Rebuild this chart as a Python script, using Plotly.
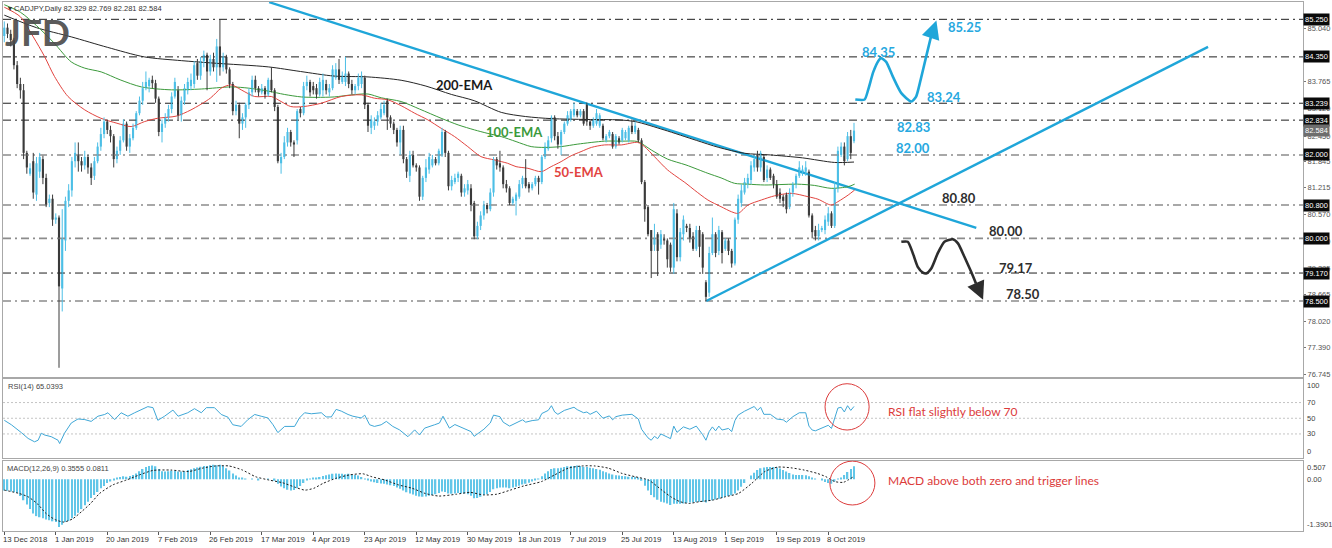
import plotly.graph_objects as go

# ---------------- data ----------------
open_ = [
84.85, 85.05, 84.90, 84.75, 84.15, 83.70, 83.55, 82.05, 81.55, 81.85,
81.05, 81.60, 81.90, 81.45, 80.85, 80.95, 80.45, 80.50, 78.80, 79.95,
80.90, 81.15, 81.85, 82.00, 81.85, 81.75, 81.95, 81.70, 81.50, 81.85,
82.20, 82.50, 82.80, 82.60, 82.45, 81.90, 82.10, 82.35, 82.75, 82.20,
82.40, 82.65, 83.00, 83.30, 83.60, 83.65, 83.80, 83.72, 83.35, 82.55,
82.75, 82.90, 83.10, 83.40, 83.55, 82.95, 83.30, 83.55, 83.65, 83.70,
84.20, 83.90, 84.25, 84.40, 84.00, 84.30, 84.10, 84.60, 84.10, 84.35,
84.05, 83.70, 83.05, 83.20, 82.75, 82.90, 83.20, 83.50, 83.80, 83.60,
83.50, 83.60, 83.45, 83.80, 83.55, 83.15, 81.80, 81.95, 82.30, 82.55,
82.30, 82.35, 83.10, 83.00, 83.65, 83.75, 83.65, 83.60, 83.45, 83.55,
83.70, 83.50, 83.60, 83.85, 84.05, 83.75, 83.75, 83.95, 83.70, 83.55,
83.65, 83.70, 83.85, 83.20, 82.65, 82.70, 82.80, 82.90, 83.00, 83.30,
82.90, 82.75, 82.60, 82.30, 82.60, 81.90, 81.50, 82.00, 81.75, 81.70,
81.00, 81.45, 81.65, 81.75, 81.90, 81.80, 82.00, 82.55, 82.05, 81.25,
81.35, 81.45, 81.50, 81.10, 81.15, 81.20, 80.85, 80.05, 80.30, 80.55,
80.80, 80.70, 81.10, 81.90, 81.80, 81.70, 81.30, 81.20, 80.85, 80.90,
81.00, 81.30, 81.45, 81.30, 81.20, 81.30, 81.45, 81.35, 81.95, 82.15,
82.40, 82.90, 82.45, 82.25, 82.55, 82.75, 82.85, 82.95, 83.05, 82.95,
83.05, 83.20, 82.80, 82.70, 82.75, 82.70, 82.70, 82.35, 82.45, 82.50,
82.20, 82.40, 82.35, 82.40, 82.35, 82.70, 82.55, 82.60, 82.35, 81.35,
80.75, 80.20, 79.85, 80.10, 79.85, 80.00, 79.95, 79.85, 79.30, 80.60,
79.55, 80.10, 80.30, 80.25, 80.05, 79.75, 80.20, 80.10, 78.95, 78.70,
79.65, 80.10, 79.70, 80.15, 79.75, 79.95, 79.70, 79.40, 80.45, 80.85,
81.10, 81.30, 81.40, 81.70, 82.00, 81.70, 81.95, 81.45, 81.65, 81.50,
81.30, 81.10, 81.00, 81.05, 80.75, 81.10, 81.30, 81.50, 81.55, 81.60,
81.60, 80.55, 80.20, 80.05, 80.20, 80.20, 80.40, 80.60, 80.30, 81.20,
82.00, 82.20, 81.90, 82.45, 82.329]

high = [
85.20, 85.15, 85.00, 84.80, 84.25, 83.85, 83.70, 82.10, 81.80, 82.05,
81.95, 82.05, 81.98, 81.55, 81.05, 81.05, 80.60, 80.55, 80.70, 81.00,
81.30, 81.95, 82.30, 82.30, 81.95, 82.10, 82.00, 81.80, 81.95, 82.30,
82.65, 82.90, 82.85, 82.70, 82.50, 82.20, 82.45, 82.85, 82.80, 82.50,
82.75, 83.05, 83.40, 83.75, 84.00, 83.85, 83.90, 83.80, 83.40, 82.85,
83.00, 83.20, 83.50, 83.85, 83.65, 83.40, 83.70, 83.85, 83.95, 84.25,
84.30, 84.35, 84.50, 84.45, 84.40, 84.45, 84.78, 85.25, 84.45, 84.40,
84.10, 83.75, 83.30, 83.25, 83.00, 83.25, 83.60, 83.90, 83.90, 83.65,
83.70, 83.65, 83.85, 84.10, 83.60, 83.20, 82.05, 82.45, 82.65, 82.60,
82.35, 83.10, 83.15, 83.75, 83.90, 83.80, 83.75, 83.70, 83.85, 83.95,
83.80, 83.70, 84.15, 84.20, 84.30, 84.00, 84.35, 84.00, 83.80, 83.70,
83.95, 84.00, 83.90, 83.25, 82.95, 82.90, 83.05, 83.25, 83.30, 83.35,
82.95, 82.80, 82.65, 82.70, 82.70, 81.95, 82.10, 82.10, 81.80, 81.75,
81.50, 81.90, 82.05, 82.00, 81.95, 82.15, 82.65, 82.60, 82.10, 81.50,
81.55, 81.60, 81.55, 81.30, 81.40, 81.30, 80.90, 80.40, 80.65, 80.90,
80.85, 81.20, 81.95, 81.95, 82.10, 81.75, 81.40, 81.25, 81.00, 81.10,
81.40, 81.50, 81.90, 81.35, 81.35, 81.50, 81.50, 82.00, 82.30, 82.45,
82.95, 82.95, 82.55, 82.60, 82.80, 83.05, 83.10, 83.25, 83.10, 83.10,
83.10, 83.25, 82.85, 82.90, 83.10, 83.00, 82.75, 82.50, 82.60, 82.55,
82.50, 82.45, 82.65, 82.60, 82.70, 82.85, 82.80, 82.65, 82.40, 81.40,
80.80, 80.20, 80.35, 80.15, 80.20, 80.10, 80.00, 79.90, 80.85, 80.70,
80.25, 80.55, 80.35, 80.35, 80.15, 80.30, 80.30, 80.15, 79.00, 79.80,
80.50, 80.15, 80.30, 80.20, 80.00, 80.00, 79.75, 80.50, 81.05, 81.30,
81.45, 81.55, 81.85, 82.00, 82.10, 82.10, 82.00, 81.75, 81.70, 81.55,
81.40, 81.20, 81.05, 81.10, 81.20, 81.35, 81.55, 81.85, 81.75, 81.85,
81.65, 80.60, 80.30, 80.35, 80.30, 80.55, 80.75, 80.65, 81.35, 82.20,
82.30, 82.30, 82.55, 82.60, 82.769]

low = [
84.70, 84.80, 84.60, 84.05, 83.60, 83.35, 81.90, 81.55, 81.50, 80.95,
80.90, 81.45, 81.30, 80.75, 80.75, 80.30, 80.35, 76.90, 78.25, 79.70,
80.75, 81.00, 81.70, 81.60, 81.60, 81.65, 81.55, 81.28, 81.40, 81.80,
82.10, 82.40, 82.50, 82.30, 81.70, 81.80, 82.00, 82.30, 82.10, 82.05,
82.35, 82.60, 82.95, 83.20, 83.55, 83.50, 83.60, 83.25, 82.45, 82.30,
82.65, 82.80, 83.00, 83.35, 82.85, 82.80, 83.20, 83.45, 83.55, 83.60,
83.80, 83.80, 84.10, 83.55, 83.90, 84.00, 83.75, 83.90, 84.00, 83.95,
83.60, 82.95, 82.95, 82.40, 82.60, 82.65, 83.10, 83.40, 83.50, 83.40,
83.45, 83.35, 83.40, 83.50, 83.05, 81.80, 81.55, 81.90, 82.20, 82.20,
81.95, 82.25, 82.90, 82.95, 83.55, 83.40, 83.45, 83.35, 83.40, 83.40,
83.45, 83.40, 83.55, 83.80, 83.70, 83.70, 83.65, 83.60, 83.45, 83.45,
83.55, 83.60, 83.10, 82.55, 82.50, 82.60, 82.70, 82.85, 82.95, 82.60,
82.65, 82.50, 82.20, 82.00, 81.80, 81.45, 81.35, 81.70, 81.60, 80.90,
80.92, 81.35, 81.55, 81.70, 81.75, 81.75, 81.95, 81.95, 81.15, 81.15,
81.30, 81.35, 81.00, 81.00, 81.05, 80.65, 79.98, 79.98, 80.20, 80.45,
80.60, 80.65, 81.00, 81.65, 81.60, 81.20, 81.10, 80.80, 80.80, 80.55,
80.95, 81.20, 81.20, 81.10, 81.15, 81.25, 81.05, 81.30, 81.90, 82.10,
82.30, 82.35, 82.15, 82.00, 82.50, 82.70, 82.80, 82.90, 82.90, 82.90,
82.70, 82.70, 82.60, 82.65, 82.70, 82.65, 82.35, 82.30, 82.40, 82.15,
82.15, 82.25, 82.30, 82.35, 82.30, 82.50, 82.50, 82.30, 81.30, 80.40,
80.05, 79.05, 79.70, 79.10, 79.75, 79.85, 79.30, 79.20, 79.15, 79.45,
79.45, 79.95, 80.15, 79.90, 79.70, 79.70, 79.55, 79.15, 78.50, 78.60,
79.60, 79.55, 79.60, 79.40, 79.70, 79.60, 79.30, 79.35, 80.35, 80.75,
81.05, 81.20, 81.30, 81.60, 81.60, 81.60, 81.35, 81.35, 81.40, 81.20,
80.95, 80.85, 80.75, 80.60, 80.70, 81.00, 81.20, 81.45, 81.50, 81.50,
80.50, 80.00, 79.95, 79.95, 80.15, 80.10, 80.30, 80.25, 80.25, 81.10,
81.95, 81.75, 81.85, 81.90, 82.281]

close = [
85.05, 84.90, 84.75, 84.15, 83.70, 83.55, 82.05, 81.70, 81.68, 81.10,
81.80, 81.95, 81.45, 80.80, 80.95, 80.45, 80.50, 78.85, 80.00, 80.90,
81.15, 81.85, 82.05, 81.85, 81.75, 81.95, 81.70, 81.45, 81.85, 82.20,
82.50, 82.80, 82.60, 82.45, 81.90, 82.10, 82.35, 82.75, 82.20, 82.40,
82.65, 83.00, 83.30, 83.60, 83.75, 83.80, 83.72, 83.35, 82.55, 82.75,
82.90, 83.10, 83.40, 83.75, 82.95, 83.30, 83.60, 83.75, 83.80, 84.15,
83.90, 84.25, 84.40, 84.00, 84.30, 84.10, 84.60, 84.10, 84.35, 84.05,
83.70, 83.05, 83.20, 82.75, 82.90, 83.20, 83.50, 83.80, 83.60, 83.50,
83.60, 83.45, 83.80, 83.55, 83.15, 81.85, 81.95, 82.30, 82.55, 82.30,
82.25, 83.05, 83.00, 83.65, 83.75, 83.50, 83.55, 83.45, 83.75, 83.80,
83.55, 83.60, 84.05, 84.05, 83.80, 83.90, 83.95, 83.70, 83.55, 83.65,
83.85, 83.90, 83.20, 82.70, 82.85, 82.80, 82.95, 83.10, 83.20, 82.90,
82.75, 82.60, 82.30, 82.60, 81.90, 81.60, 82.00, 81.75, 81.70, 81.00,
81.45, 81.70, 81.95, 81.90, 81.80, 82.10, 82.55, 82.05, 81.25, 81.40,
81.45, 81.55, 81.10, 81.20, 81.30, 80.80, 80.05, 80.30, 80.55, 80.80,
80.70, 81.10, 81.90, 81.75, 81.70, 81.30, 81.20, 80.85, 80.95, 81.05,
81.30, 81.45, 81.25, 81.20, 81.30, 81.45, 81.35, 81.95, 82.20, 82.35,
82.90, 82.45, 82.25, 82.55, 82.75, 82.95, 83.05, 83.10, 82.95, 83.05,
82.75, 82.80, 82.70, 82.85, 83.00, 82.95, 82.40, 82.45, 82.55, 82.20,
82.45, 82.30, 82.60, 82.55, 82.65, 82.55, 82.70, 82.35, 81.35, 80.70,
80.10, 79.70, 80.00, 79.70, 80.10, 79.95, 79.50, 79.30, 80.70, 79.55,
80.15, 80.45, 80.25, 80.00, 79.75, 80.20, 79.80, 79.30, 78.60, 79.65,
80.10, 79.65, 80.20, 79.65, 79.95, 79.70, 79.40, 80.45, 80.95, 81.15,
81.35, 81.45, 81.75, 81.90, 81.70, 82.05, 81.40, 81.65, 81.45, 81.30,
81.00, 80.95, 80.90, 80.70, 81.10, 81.30, 81.50, 81.70, 81.65, 81.70,
80.55, 80.15, 80.05, 80.20, 80.25, 80.45, 80.60, 80.30, 81.20, 82.10,
82.20, 81.85, 82.45, 82.05, 82.584]

# moving averages (bar index, value)
ema50_pts = [(0, 85.54), (5, 85.31), (9, 84.83), (12.5, 84.36), (15.6, 83.88), (19.8, 83.40),
             (25, 83.08), (30, 82.88), (35, 82.76), (39.4, 82.68), (43.6, 82.80), (47.7, 82.88),
             (53.4, 82.93), (58, 83.08), (64, 83.36), (67.4, 83.60), (70.5, 83.68), (73.6, 83.56),
             (77.8, 83.40), (83, 83.40), (86, 83.28), (89, 83.16), (93, 83.16), (98.5, 83.24),
             (104.7, 83.40), (110.9, 83.44), (115, 83.36), (119.2, 83.32), (123.3, 83.18),
             (127.5, 83.00), (131.6, 82.84), (135.7, 82.64), (139.9, 82.44), (144, 82.20),
             (148.1, 81.96), (152.3, 81.88), (156.4, 81.80), (159, 81.72), (162.7, 81.68),
             (166.8, 81.60), (169.9, 81.72), (173, 81.84), (176.1, 81.98), (179.2, 82.08),
             (182.4, 82.18), (186.5, 82.24), (191.7, 82.24), (196.8, 82.30), (198.9, 82.20),
             (202, 81.96), (206.1, 81.64), (211.8, 81.32), (214.4, 81.16), (218.6, 80.92),
             (222.7, 80.76), (225.9, 80.64), (228, 80.60), (231.1, 80.80), (235.2, 80.92),
             (239.3, 81.02), (244.5, 81.08), (249.7, 81.00), (252.8, 80.94), (256.9, 80.80),
             (259, 80.88), (262.2, 81.04), (264.2, 81.16)]
ema100_pts = [(0, 85.60), (5, 85.42), (10, 85.10), (15.5, 84.68), (20.8, 84.23), (25, 84.08),
              (30.1, 83.99), (36, 83.80), (42.6, 83.63), (51.9, 83.56), (61.2, 83.58),
              (70.5, 83.63), (76, 83.60), (82, 83.53), (87, 83.45), (92.3, 83.39), (97, 83.38),
              (102.5, 83.39), (108, 83.44), (113, 83.46), (117.1, 83.37), (123.3, 83.28),
              (129, 83.10), (135.7, 82.88), (141, 82.72), (146.1, 82.60), (150, 82.52),
              (154.4, 82.44), (159, 82.32), (163.7, 82.20), (168, 82.18), (173, 82.20),
              (178.2, 82.26), (186.5, 82.33), (192, 82.33), (196.8, 82.32), (201, 82.12),
              (206.1, 81.90), (211.8, 81.76), (218.6, 81.56), (222.7, 81.45), (226.9, 81.32),
              (231, 81.30), (236.2, 81.28), (241, 81.29), (246.5, 81.30), (251.7, 81.27),
              (256.9, 81.20), (262.2, 81.24), (264.2, 81.30)]
ema200_pts = [(0, 85.35), (10, 85.05), (20.8, 84.83), (32, 84.58), (43.5, 84.35), (55, 84.26),
              (65.2, 84.20), (82, 84.11), (92, 84.00), (102.5, 83.89), (113, 83.87),
              (123.3, 83.79), (131, 83.65), (138.9, 83.45), (146, 83.30), (154.4, 83.02),
              (162, 82.92), (170, 82.87), (181, 82.85), (191, 82.84), (196, 82.80), (205, 82.60),
              (215, 82.35), (222, 82.18), (230, 82.04), (238, 82.00), (248, 81.93),
              (258, 81.82), (264, 81.83)]

# RSI(14) (bar index, value)
rsi_pts = [(0, 47.4), (2.2, 41.7), (5.3, 31.7), (7.4, 24.3), (9.4, 20), (10.5, 22), (11.5, 30.9),
           (12.5, 28.7), (14.6, 26.5), (16.7, 22), (17.2, 17.8), (18.7, 30.9), (20.8, 43.9),
           (22.9, 49.1), (25, 48.3), (27, 46), (29.1, 52.6), (31.2, 54.8), (32.2, 57),
           (34.3, 48.3), (36.3, 57), (38.4, 52.6), (40.5, 57), (42.6, 61.3), (44.6, 64.8),
           (46.2, 63.5), (47.7, 47.4), (49.8, 52.6), (52.4, 60.4), (54, 52.6), (57, 57),
           (59.1, 62.2), (61.2, 57), (62.8, 63.5), (65.3, 63.5), (67.4, 54.8), (69.5, 51.3),
           (71, 41.7), (73.6, 39.6), (75.7, 48.3), (77.8, 54.8), (79.8, 52.6), (81.9, 50.4),
           (83.5, 41.7), (85, 31.7), (87.1, 39.6), (90.2, 39.6), (91.7, 50.4), (93.3, 57),
           (95.4, 55.7), (98.5, 57), (100, 51.7), (101.6, 51.7), (103.1, 61.3), (104.7, 59.1),
           (106.8, 54.8), (108.3, 52.6), (110.9, 50.4), (112, 54), (113.5, 41.7), (115, 39.6),
           (117.1, 41.7), (118.7, 46), (120.7, 39.6), (122.8, 35.2), (125.4, 26.5),
           (127.5, 35.2), (129, 28.7), (130.6, 37.4), (133.7, 41.7), (135.2, 43.9),
           (136.3, 52.6), (138.3, 37.4), (140, 42), (142, 38), (145, 33), (146, 27), (149, 36),
           (151, 44), (152, 54), (154, 52), (155, 45), (157, 40), (159, 44), (161, 48),
           (162, 45), (164, 47), (166, 48), (167, 56), (169, 60), (170, 66), (171, 58),
           (172, 55), (174, 60), (177, 64), (178, 61), (180, 57), (181, 58), (182, 55),
           (184, 59), (186, 50), (188, 53), (189, 48), (190, 52), (192, 54), (195, 55),
           (197, 49), (198, 36), (199, 30), (200, 25), (201, 22), (202, 27), (203, 24),
           (204, 30), (206, 26), (207, 24), (208, 40), (209, 32), (211, 39), (213, 36),
           (215, 40), (216, 35), (217, 29), (218, 22), (219, 33), (220, 39), (221, 34),
           (222, 40), (223, 35), (225, 37), (226, 33), (227, 47), (228, 54), (230, 59),
           (232, 63), (233, 65), (234, 60), (235, 64), (236, 55), (238, 55), (240, 49),
           (242, 48), (243, 45), (245, 52), (247, 57), (249, 57), (250, 40), (251, 35),
           (252, 34), (254, 37), (256, 41), (257, 37), (258, 51), (259, 63), (260, 64),
           (261, 58), (262, 66), (263, 60), (264, 65.04)]

# MACD(12,26,9) main (histogram), one value per bar
macd_main = [
-0.30, -0.31, -0.33, -0.35, -0.37, -0.45, -0.56, -0.68, -0.80, -0.92,
-0.99, -1.02, -1.05, -1.08, -1.10, -1.13, -1.15, -1.28, -1.22, -1.15,
-1.12, -1.05, -0.98, -0.90, -0.80, -0.70, -0.60, -0.50, -0.42, -0.34,
-0.24, -0.18, -0.10, -0.06, -0.02, 0.03, 0.06, 0.08, 0.07, 0.09,
0.12, 0.16, 0.22, 0.28, 0.33, 0.36, 0.37, 0.35, 0.28, 0.22,
0.21, 0.22, 0.23, 0.24, 0.21, 0.21, 0.22, 0.25, 0.27, 0.30,
0.32, 0.34, 0.36, 0.36, 0.38, 0.39, 0.38, 0.39, 0.36, 0.30,
0.24, 0.16, 0.10, 0.05, 0.03, 0.01, 0.00, 0.01, 0.00, -0.01,
0.00, 0.00, 0.01, 0.00, -0.04, -0.12, -0.19, -0.24, -0.28, -0.30,
-0.29, -0.24, -0.18, -0.10, -0.03, 0.01, 0.03, 0.04, 0.06, 0.09,
0.11, 0.13, 0.15, 0.16, 0.15, 0.15, 0.14, 0.15, 0.13, 0.12,
0.10, 0.06, 0.02, -0.03, -0.06, -0.08, -0.10, -0.11, -0.12, -0.14,
-0.16, -0.18, -0.22, -0.25, -0.30, -0.35, -0.38, -0.41, -0.44, -0.46,
-0.47, -0.46, -0.44, -0.42, -0.40, -0.37, -0.33, -0.34, -0.38, -0.39,
-0.38, -0.37, -0.38, -0.38, -0.40, -0.44, -0.51, -0.50, -0.47, -0.42,
-0.40, -0.34, -0.27, -0.24, -0.22, -0.22, -0.22, -0.24, -0.22, -0.20,
-0.17, -0.14, -0.12, -0.09, -0.06, -0.02, 0.01, 0.08, 0.16, 0.22,
0.28, 0.30, 0.30, 0.31, 0.33, 0.35, 0.36, 0.36, 0.37, 0.36,
0.34, 0.33, 0.31, 0.30, 0.28, 0.26, 0.22, 0.19, 0.16, 0.13,
0.11, 0.10, 0.09, 0.08, 0.07, 0.07, 0.06, 0.04, -0.04, -0.17,
-0.30, -0.42, -0.48, -0.55, -0.60, -0.62, -0.65, -0.69, -0.66, -0.66,
-0.66, -0.65, -0.64, -0.62, -0.62, -0.61, -0.60, -0.60, -0.62, -0.58,
-0.56, -0.54, -0.52, -0.50, -0.47, -0.45, -0.43, -0.38, -0.30, -0.20,
-0.10, 0.00, 0.10, 0.18, 0.25, 0.30, 0.32, 0.33, 0.33, 0.33,
0.32, 0.29, 0.25, 0.21, 0.17, 0.13, 0.12, 0.12, 0.12, 0.11,
0.08, 0.05, 0.02, 0.00, -0.03, -0.07, -0.10, -0.12, -0.06, 0.02,
0.05, 0.12, 0.20, 0.28, 0.3555]

# MACD signal (bar index, value)
signal_pts = [(0, -0.29), (4.6, -0.38), (7.4, -0.47), (10.2, -0.65), (13, -0.92), (15.7, -1.08),
              (18.5, -1.15), (21.3, -1.06), (24, -0.87), (26.8, -0.65), (29.6, -0.38),
              (33.7, -0.15), (37.9, -0.02), (42, 0.12), (46.2, 0.24), (51.8, 0.25), (57.3, 0.21),
              (61.5, 0.30), (65.6, 0.36), (69.8, 0.36), (74, 0.25), (78.1, 0.07), (82.3, -0.02),
              (86.4, -0.09), (90.6, -0.22), (93.4, -0.29), (96.2, -0.24), (99, -0.11),
              (103.1, 0.03), (107.3, 0.12), (111.4, 0.15), (114.2, 0.07), (118.3, -0.02),
              (122.5, -0.15), (126.7, -0.24), (130.8, -0.38), (135, -0.45), (140.5, -0.40),
              (144.7, -0.35), (148.9, -0.42), (153, -0.40), (157.2, -0.29), (161.3, -0.18),
              (166.9, -0.06), (171, 0.12), (175.2, 0.30), (179.4, 0.36), (183.5, 0.36),
              (187.7, 0.30), (191.9, 0.16), (196, 0.07), (200.2, -0.02), (204.3, -0.29),
              (207.1, -0.47), (209.9, -0.60), (212.7, -0.65), (216, -0.60), (220, -0.56),
              (224, -0.47), (228.1, -0.38), (232.2, -0.11), (236.3, 0.21), (240.3, 0.33),
              (244.4, 0.31), (248.5, 0.25), (252.6, 0.16), (255.3, 0.07), (258, -0.06),
              (260.7, -0.08), (264, 0.08)]

date_bars = [0, 16, 32, 48, 64, 80, 96, 112, 128, 144, 160, 176, 192, 208, 224, 240, 256]
date_text = ["13 Dec 2018", "1 Jan 2019", "20 Jan 2019", "7 Feb 2019", "26 Feb 2019",
             "17 Mar 2019", "4 Apr 2019", "23 Apr 2019", "12 May 2019", "30 May 2019",
             "18 Jun 2019", "7 Jul 2019", "25 Jul 2019", "13 Aug 2019", "1 Sep 2019",
             "19 Sep 2019", "8 Oct 2019"]

price_ticks = [85.040, 83.765, 83.120, 82.450, 81.845, 81.215, 80.570, 79.940,
               79.285, 78.665, 78.020, 77.390, 76.745]
price_tick_text = ["85.040", "83.765", "83.120", "82.450", "81.845", "81.215",
                   "80.570", "79.940", "79.285", "78.665", "78.020", "77.390", "76.745"]

levels = [85.25, 84.35, 83.239, 82.834, 82.0, 80.8, 80.0, 79.17, 78.5]
level_text = ["85.250", "84.350", "83.239", "82.834", "82.000", "80.800", "80.000", "79.170", "78.500"]
level_dark = [True, True, True, True, False, False, False, True, False]
last_price = 82.584

desc_trend = [(82.3, 85.66), (302.0, 80.25)]
asc_trend = [(218.1, 78.50), (374.0, 84.59)]

bull_path = [(264.4, 83.33), (267.3, 83.33), (268.4, 83.56), (270.0, 83.99), (271.6, 84.26),
             (272.4, 84.32), (274.0, 84.23), (276.1, 83.87), (278.7, 83.48), (281.8, 83.28),
             (283.3, 83.40), (284.7, 83.80), (286.4, 84.35), (287.9, 84.83)]
bull_tip = (289.6, 85.22)
bear_path = [(278.7, 79.92), (280.7, 79.92), (282.3, 79.64), (283.8, 79.32), (285.4, 79.18),
             (286.4, 79.16), (288.0, 79.28), (290.0, 79.64), (292.1, 79.92), (294.7, 79.98),
             (296.3, 79.88), (298.3, 79.56), (300.4, 79.20), (301.9, 78.92)]
bear_tip = (304.1, 78.53)

# ---------------- styling ----------------
BULL = "#4dbfe6"
BEAR = "#3b3b3b"
TREND = "#1fa6d9"
LBLUE = "#27a8df"
DARKTXT = "#2e2e2e"
REDTXT = "#dc3b3b"
FRAME = "#a8a8a8"
SMALL = "Liberation Sans"
BOLD = "Lato"

XR = [-0.4, 403.5]
N = len(close)
idx = list(range(N))

fig = go.Figure()

# horizontal levels
for lv, dk in zip(levels, level_dark):
    fig.add_trace(go.Scatter(x=XR, y=[lv, lv], mode="lines", hoverinfo="skip",
                             line=dict(color="#1e1e1e" if dk else "#8c8c8c",
                                       width=1 if dk else 1.6, dash="8px,4px,2px,4px")))

# trend lines
for seg in (desc_trend, asc_trend):
    fig.add_trace(go.Scatter(x=[p[0] for p in seg], y=[p[1] for p in seg], mode="lines",
                             line=dict(color=TREND, width=2.4), hoverinfo="skip"))

# EMAs
for pts, col in ((ema200_pts, "#262626"), (ema100_pts, "#3c9a3c"), (ema50_pts, "#e2443f")):
    fig.add_trace(go.Scatter(x=[p[0] for p in pts], y=[p[1] for p in pts], mode="lines",
                             line=dict(color=col, width=1, shape="spline", smoothing=0.8),
                             hoverinfo="skip"))

# candles
bull = [i for i in idx if close[i] >= open_[i]]
bear = [i for i in idx if close[i] < open_[i]]


def wick(ids):
    xs, ys = [], []
    for i in ids:
        xs += [i, i, None]
        ys += [min(low[i], open_[i], close[i]), max(high[i], open_[i], close[i]), None]
    return xs, ys


for ids, col in ((bear, BEAR), (bull, BULL)):
    wx, wy = wick(ids)
    fig.add_trace(go.Scatter(x=wx, y=wy, mode="lines", line=dict(color=col, width=1),
                             hoverinfo="skip"))
    fig.add_trace(go.Bar(x=ids,
                         y=[max(abs(close[i] - open_[i]), 0.03) for i in ids],
                         base=[min(open_[i], close[i]) for i in ids],
                         width=0.66, marker=dict(color=col, line=dict(width=0)),
                         hoverinfo="skip"))

# scenario paths
fig.add_trace(go.Scatter(x=[p[0] for p in bull_path], y=[p[1] for p in bull_path], mode="lines",
                         line=dict(color=TREND, width=2.6, shape="spline", smoothing=0.6),
                         hoverinfo="skip"))
fig.add_trace(go.Scatter(x=[p[0] for p in bear_path], y=[p[1] for p in bear_path], mode="lines",
                         line=dict(color="#2d2d2d", width=2.6, shape="spline", smoothing=0.6),
                         hoverinfo="skip"))

# RSI pane
for lv in (70, 50, 30):
    fig.add_trace(go.Scatter(x=XR, y=[lv, lv], mode="lines", xaxis="x2", yaxis="y2",
                             line=dict(color="#c4c4c4", width=1, dash="2px,2px"),
                             hoverinfo="skip"))
fig.add_trace(go.Scatter(x=[p[0] for p in rsi_pts], y=[p[1] for p in rsi_pts], mode="lines",
                         xaxis="x2", yaxis="y2", line=dict(color="#3fa7d6", width=1),
                         hoverinfo="skip"))

# MACD pane
fig.add_trace(go.Bar(x=idx, y=macd_main, width=0.45, xaxis="x3", yaxis="y3",
                     marker=dict(color="#62c6e8", line=dict(width=0)), hoverinfo="skip"))
fig.add_trace(go.Scatter(x=[p[0] for p in signal_pts], y=[p[1] for p in signal_pts],
                         mode="lines", xaxis="x3", yaxis="y3",
                         line=dict(color="#1e1e1e", width=1, dash="2px,2px", shape="spline",
                                   smoothing=0.6), hoverinfo="skip"))

ann = []
# level boxes on price scale
for lv, t in zip(levels, level_text):
    ann.append(dict(xref="paper", x=1, xanchor="left", xshift=0, yref="y", y=lv,
                    text=t, showarrow=False, bgcolor="#0a0a0a", borderpad=1,
                    font=dict(family=SMALL, size=7.5, color="white")))
ann.append(dict(xref="paper", x=1, xanchor="left", xshift=0, yref="y", y=last_price,
                text="82.584", showarrow=False, bgcolor="#6e6e6e", borderpad=1,
                font=dict(family=SMALL, size=7.5, color="white")))

# RSI / MACD scale labels
for v, t, anc in ((100, "100", "top"), (70, "70", "middle"), (50, "50", "middle"),
                  (30, "30", "middle"), (0, "0", "bottom")):
    ann.append(dict(xref="paper", x=1, xanchor="left", xshift=2, yref="y2", y=v, yanchor=anc,
                    text=t, showarrow=False, font=dict(family=SMALL, size=7.5, color="#444")))
for v, t, anc in ((0.507, "0.507", "top"), (0.0, "0.00", "middle"), (-1.3901, "-1.3901", "bottom")):
    ann.append(dict(xref="paper", x=1, xanchor="left", xshift=2, yref="y3", y=v, yanchor=anc,
                    text=t, showarrow=False, font=dict(family=SMALL, size=7.5, color="#444")))

# date labels
for b, t in zip(date_bars, date_text):
    ann.append(dict(xref="x3", x=b, xanchor="left", xshift=-3, yref="paper", y=0,
                    yanchor="middle", yshift=-8, text=t, showarrow=False,
                    font=dict(family=SMALL, size=7.8, color="#333")))

# header texts
ann.append(dict(xref="paper", x=0, xanchor="left", xshift=3, yref="paper", y=1, yanchor="top",
                yshift=0, text="▾ CADJPY,Daily 82.329 82.769 82.281 82.584", showarrow=False,
                font=dict(family=SMALL, size=7.5, color="#333")))
ann.append(dict(xref="paper", x=0, xanchor="left", xshift=0, yref="paper", y=1, yanchor="top",
                yshift=-5, text="<b>JFD</b>", showarrow=False,
                font=dict(family=BOLD, size=37, color="rgba(75,75,75,0.92)")))
ann.append(dict(xref="paper", x=0, xanchor="left", xshift=3, yref="y2", y=100, yanchor="top",
                yshift=-1, text="RSI(14) 65.0393", showarrow=False,
                font=dict(family=SMALL, size=7.5, color="#444")))
ann.append(dict(xref="paper", x=0, xanchor="left", xshift=2, yref="y3", y=0.507, yanchor="top",
                yshift=-1, text="MACD(12,26,9) 0.3555 0.0811", showarrow=False,
                font=dict(family=SMALL, size=7.5, color="#444")))

# EMA labels
for x, y, t, c in ((142.9, 83.67, "200-EMA", "#1a1a1a"), (158.4, 82.55, "100-EMA", "#3c9a3c"),
                   (178.6, 81.59, "50-EMA", "#e2443f")):
    ann.append(dict(xref="x", yref="y", x=x, y=y, text="<b>%s</b>" % t, showarrow=False,
                    font=dict(family=BOLD, size=13, color=c)))

# scenario labels
for x, y, t, c in ((271.5, 84.47, "84.35", LBLUE), (292.0, 83.39, "83.24", LBLUE),
                   (298.2, 85.07, "85.25", LBLUE), (282.4, 82.67, "82.83", LBLUE),
                   (282.4, 82.17, "82.00", LBLUE), (296.7, 80.97, "80.80", DARKTXT),
                   (311.3, 80.18, "80.00", DARKTXT), (314.4, 79.29, "79.17", DARKTXT),
                   (316.6, 78.67, "78.50", DARKTXT)):
    ann.append(dict(xref="x", yref="y", x=x, y=y, text="<b>%s</b>" % t, showarrow=False,
                    font=dict(family=BOLD, size=13, color=c)))

# arrow heads
ann.append(dict(xref="x", yref="y", axref="x", ayref="y", x=bull_tip[0], y=bull_tip[1],
                ax=bull_path[-1][0], ay=bull_path[-1][1], text="", showarrow=True,
                arrowhead=2, arrowsize=1.4, arrowwidth=2.6, arrowcolor=TREND))
ann.append(dict(xref="x", yref="y", axref="x", ayref="y", x=bear_tip[0], y=bear_tip[1],
                ax=bear_path[-1][0], ay=bear_path[-1][1], text="", showarrow=True,
                arrowhead=2, arrowsize=1.4, arrowwidth=2.6, arrowcolor="#2d2d2d"))

# comments
ann.append(dict(xref="x2", yref="y2", x=274.0, y=58, xanchor="left", text="RSI flat slightly below 70",
                showarrow=False, font=dict(family=BOLD, size=12, color=REDTXT)))
ann.append(dict(xref="x3", yref="y3", x=274.0, y=-0.04, xanchor="left",
                text="MACD above both zero and trigger lines",
                showarrow=False, font=dict(family=BOLD, size=12, color=REDTXT)))

shapes = [
    dict(type="circle", xref="x2", yref="y2", x0=255.0, x1=268.7, y0=35, y1=94,
         line=dict(color=REDTXT, width=1)),
    dict(type="circle", xref="x3", yref="y3", x0=256.5, x1=270.5, y0=-0.69, y1=0.49,
         line=dict(color=REDTXT, width=1)),
]

axis_common = dict(showgrid=False, zeroline=False, showline=True, mirror=True,
                   linecolor=FRAME, linewidth=1, automargin=False)

fig.update_layout(
    template="none",
    width=1332, height=548,
    margin=dict(l=3, r=29, t=2, b=17),
    paper_bgcolor="white", plot_bgcolor="white",
    showlegend=False, barmode="overlay", hovermode=False,
    xaxis=dict(domain=[0, 1], range=XR, anchor="y", showticklabels=False, ticks="", **axis_common),
    xaxis2=dict(domain=[0, 1], range=XR, anchor="y2", showticklabels=False, ticks="", **axis_common),
    xaxis3=dict(domain=[0, 1], range=XR, anchor="y3", showticklabels=False, ticks="outside",
                tickvals=date_bars, ticklen=3, tickcolor="#555", **axis_common),
    yaxis=dict(domain=[0.29112, 1], range=[76.679, 85.665], side="right", tickvals=price_ticks,
               ticktext=price_tick_text, ticks="outside", ticklen=2, tickcolor="#777",
               tickfont=dict(family=SMALL, size=7.5, color="#555"), **axis_common),
    yaxis2=dict(domain=[0.13894, 0.28733], range=[0, 100], side="right", showticklabels=False,
                anchor="x2", ticks="", **axis_common),
    yaxis3=dict(domain=[0, 0.13327], range=[-1.3901, 0.507], side="right", showticklabels=False,
                anchor="x3", ticks="", **axis_common),
    annotations=ann,
    shapes=shapes,
)

fig.write_html("out.html", config={"displayModeBar": False},
               post_script="document.body.style.margin='0';document.body.style.padding='0';")
